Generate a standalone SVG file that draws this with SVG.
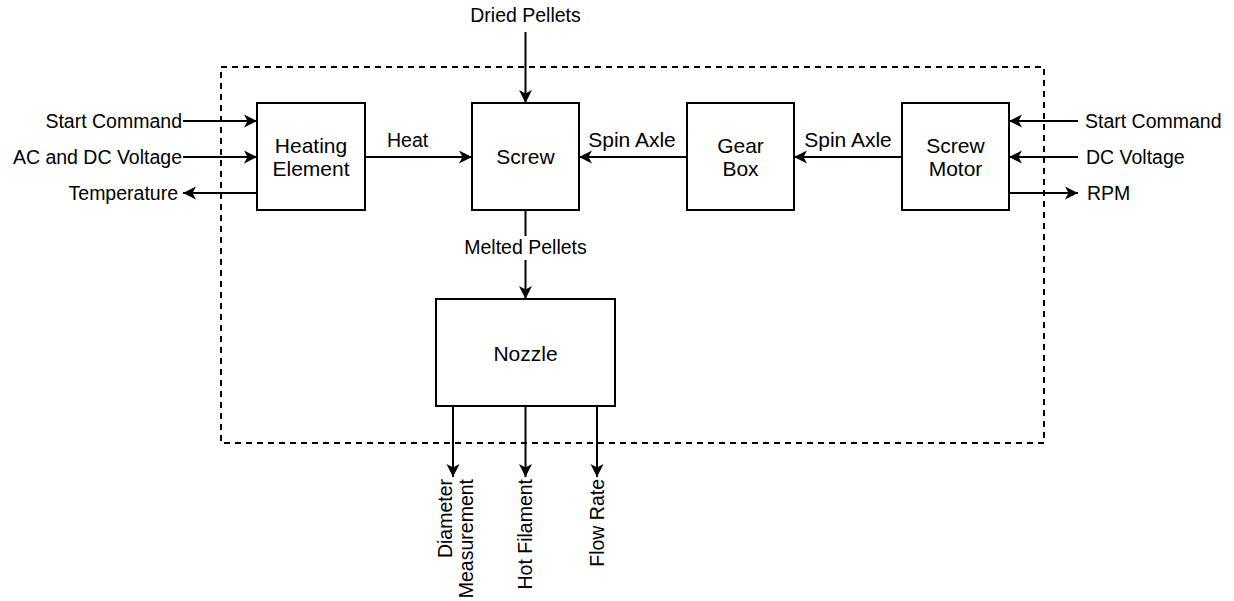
<svg xmlns="http://www.w3.org/2000/svg" width="1234" height="601" viewBox="0 0 1234 601">
  <style>
    .box { fill: #ffffff; stroke: #000000; stroke-width: 2; }
    .frame { fill: none; stroke: #000000; stroke-width: 2; stroke-dasharray: 6 5; }
    .wire { fill: none; stroke: #000000; stroke-width: 2; marker-end: url(#head); }
    text { font-family: "Liberation Sans", Arial, sans-serif; font-size: 19.5px; fill: #000000; }
    .label { text-anchor: middle; font-size: 21px; }
    .big { font-size: 21px; }
    .end { text-anchor: end; }
    .mid { text-anchor: middle; }
  </style>
  <defs>
    <marker id="head" markerUnits="userSpaceOnUse" markerWidth="16" markerHeight="16" refX="14" refY="8" orient="auto">
      <path d="M14,8 L1,1.5 L4.5,8 L1,14.5 Z" fill="#000000"/>
    </marker>
  </defs>

  <!-- system boundary -->
  <rect class="frame" x="221" y="67" width="823" height="376"/>

  <!-- connectors -->
  <g id="connectors">
    <!-- external inputs / outputs on the heater -->
    <line class="wire" x1="183" y1="121" x2="257" y2="121"/>
    <line class="wire" x1="183" y1="157" x2="257" y2="157"/>
    <line class="wire" x1="257" y1="193" x2="183" y2="193"/>
    <!-- internal flow -->
    <line class="wire" x1="365" y1="157" x2="472" y2="157"/>
    <line class="wire" x1="687" y1="157" x2="579" y2="157"/>
    <line class="wire" x1="902" y1="157" x2="794" y2="157"/>
    <line class="wire" x1="525.5" y1="32" x2="525.5" y2="103"/>
    <line class="wire" x1="525.5" y1="210" x2="525.5" y2="299"/>
    <!-- motor inputs / outputs -->
    <line class="wire" x1="1078" y1="121" x2="1009" y2="121"/>
    <line class="wire" x1="1078" y1="157" x2="1009" y2="157"/>
    <line class="wire" x1="1009" y1="193" x2="1078" y2="193"/>
    <!-- nozzle outputs -->
    <line class="wire" x1="453" y1="406" x2="453" y2="477"/>
    <line class="wire" x1="525.5" y1="406" x2="525.5" y2="477"/>
    <line class="wire" x1="597" y1="406" x2="597" y2="477"/>

    <!-- connector labels -->
    <text x="387" y="147">Heat</text>
    <text class="mid big" x="632" y="147">Spin Axle</text>
    <text class="mid big" x="848" y="147">Spin Axle</text>
    <text class="mid" x="525.5" y="22">Dried Pellets</text>
    <rect x="462" y="236" width="128" height="24" fill="#ffffff"/>
    <text class="mid" x="525.5" y="254">Melted Pellets</text>

    <text class="end" x="182" y="128">Start Command</text>
    <text class="end" x="182" y="164">AC and DC Voltage</text>
    <text class="end" x="178" y="200">Temperature</text>

    <text x="1085" y="128">Start Command</text>
    <text x="1086" y="164">DC Voltage</text>
    <text x="1087" y="200">RPM</text>

    <text class="end" transform="translate(452,479) rotate(-90)">Diameter<tspan x="0" dy="21">Measurement</tspan></text>
    <text class="end" transform="translate(532,479) rotate(-90)">Hot Filament</text>
    <text class="end" transform="translate(604,479) rotate(-90)">Flow Rate</text>
  </g>

  <!-- blocks -->
  <g id="heating-element">
    <rect class="box" x="257" y="103" width="108" height="107"/>
    <text class="label" x="311" y="153">Heating</text>
    <text class="label" x="311" y="176">Element</text>
  </g>
  <g id="screw">
    <rect class="box" x="472" y="103" width="107" height="107"/>
    <text class="label" x="525.5" y="164">Screw</text>
  </g>
  <g id="gear-box">
    <rect class="box" x="687" y="103" width="107" height="107"/>
    <text class="label" x="740.5" y="153">Gear</text>
    <text class="label" x="740.5" y="176">Box</text>
  </g>
  <g id="screw-motor">
    <rect class="box" x="902" y="103" width="107" height="107"/>
    <text class="label" x="955.5" y="153">Screw</text>
    <text class="label" x="955.5" y="176">Motor</text>
  </g>
  <g id="nozzle">
    <rect class="box" x="436" y="299" width="179" height="107"/>
    <text class="label" x="525.5" y="361">Nozzle</text>
  </g>
</svg>
